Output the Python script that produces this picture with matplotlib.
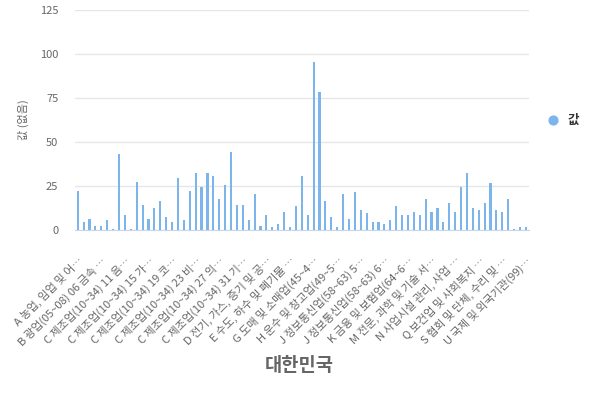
import matplotlib
matplotlib.use("Agg")
import matplotlib.pyplot as plt
import numpy as np

plt.rcParams['font.family'] = ['Noto Sans CJK KR', 'DejaVu Sans']

# bar values (77 industry groups)
values = [
    22, 4.5, 6.3, 2, 2, 5.7, 0.6, 43, 8.5, 0.6,
    27.3, 14.2, 6.3, 12.5, 16.5, 7.4, 4.5, 29.5, 5.7, 22.2,
    32.4, 24.4, 32.4, 30.7, 17.6, 25.6, 44.3, 14.2, 14.2, 5.7,
    20.5, 2.3, 8.5, 1.7, 3.4, 10.2, 1.7, 13.6, 30.7, 8.5,
    95.5, 78.4, 16.5, 7.4, 1.7, 20.5, 6.3, 21.6, 11.4, 9.7,
    4.5, 4.5, 3.4, 5.7, 13.6, 8.5, 8.5, 10.2, 8.5, 17.6,
    10.2, 12.5, 4.5, 15.3, 10.2, 24.4, 32.4, 12.5, 11.4, 15.3,
    26.7, 11.4, 10.2, 17.6, 0.6, 1.7, 1.7,
]

# only every 4th category name is shown on the axis
tick_labels = [
    "A 농업, 임업 및 어…",
    "B 광업(05~08) 06 금속 …",
    "C 제조업(10~34) 11 음…",
    "C 제조업(10~34) 15 가…",
    "C 제조업(10~34) 19 코…",
    "C 제조업(10~34) 23 비…",
    "C 제조업(10~34) 27 의…",
    "C 제조업(10~34) 31 기…",
    "D 전기, 가스, 증기 및 공…",
    "E 수도, 하수 및 폐기물 …",
    "G 도매 및 소매업(45~4…",
    "H 운수 및 창고업(49~5…",
    "J 정보통신업(58~63) 5…",
    "J 정보통신업(58~63) 6…",
    "K 금융 및 보험업(64~6…",
    "M 전문, 과학 및 기술 서…",
    "N 사업시설 관리, 사업 …",
    "Q 보건업 및 사회복지 …",
    "S 협회 및 단체, 수리 및 …",
    "U 국제 및 외국기관(99)…",
]

bar_color = "#7cb5ec"
grey = "#666666"

fig = plt.figure(figsize=(6, 4), dpi=100)
ax = fig.add_axes([0.125, 0.425, 0.757, 0.55])

x = np.arange(len(values))
ax.bar(x, values, width=0.36, color=bar_color, zorder=3)

ax.set_xlim(-0.46, len(values) - 0.44)
ax.set_ylim(0, 125)
ax.set_yticks([0, 25, 50, 75, 100, 125])
ax.yaxis.grid(True, color="#e6e6e6", linewidth=1, zorder=0)

for s in ["top", "right", "left"]:
    ax.spines[s].set_visible(False)
ax.spines["bottom"].set_color("#ccd6eb")

ax.set_xticks(x[::4])
ax.set_xticklabels(tick_labels, rotation=45, ha="right",
                   rotation_mode="anchor", fontsize=8, color=grey)
ax.tick_params(axis="x", length=0, pad=18)
ax.tick_params(axis="y", length=0, pad=12, labelsize=8, labelcolor=grey)

ax.set_ylabel("값 (없음)", fontsize=8, color=grey, labelpad=8)
fig.text(0.498, 0.087, "대한민국", fontsize=13.5, fontweight="bold",
         color=grey, ha="center", va="center")

# legend on the right
ax.scatter([], [], color=bar_color, s=40, label="값")
leg = ax.legend(loc="center left", bbox_to_anchor=(1.0, 0.5), frameon=False,
                handletextpad=0.2, prop={"size": 9, "weight": "bold"})
for t in leg.get_texts():
    t.set_color("#333333")

fig.savefig("out.png", dpi=100)
